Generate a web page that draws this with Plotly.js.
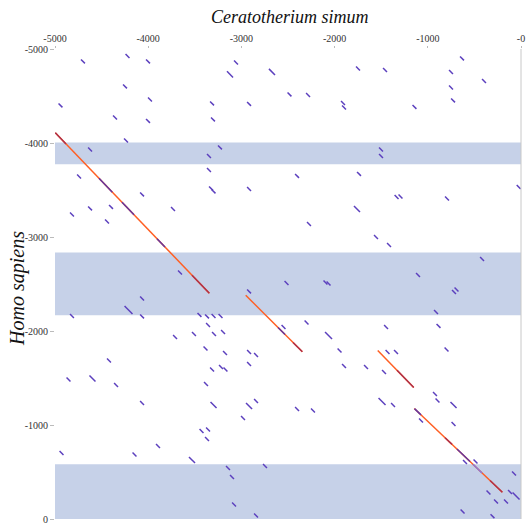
<!DOCTYPE html>
<html>
<head>
<meta charset="utf-8">
<script src="https://cdn.plot.ly/plotly-3.0.1.min.js"></script>
<style>html,body{margin:0;padding:0;background:#fff;}#chart{width:527px;height:529px;}</style>
</head>
<body>
<div id="chart"></div>
<script>
// Axis ticks
const xTickVals = [-5000, -4000, -3000, -2000, -1000, 0];
const xTickText = ['-5000', '-4000', '-3000', '-2000', '-1000', '-0'];
const yTickVals = [-5000, -4000, -3000, -2000, -1000, 0];
const yTickText = ['-5000', '-4000', '-3000', '-2000', '-1000', '0'];
const xTitle = 'Ceratotherium simum';
const yTitle = 'Homo sapiens';

// Highlighted regions on Homo sapiens (start, end)
const bandStart = [-4006, -2836, -583];
const bandEnd = [-3775, -2168, 0];

// Short (low identity) alignments: centre positions and length
const dashX = [-4700,-4222,-4002,-3058,-3122,-2672,-4249,-3981,-2484,-2285,-1749,-1459,-633,-751,-397,-751,-729,
  -4941,-3315,-2918,-4356,-4002,-3305,-4238,-4624,-3230,-3348,-3348,-4742,-3326,-3299,-2918,-4066,-4818,-4624,-4399,
  -3734,-4442,-3659,-2918,-4066,-4211,-1910,-1899,-1143,-1502,-1502,-2403,-1738,-25,-1335,-1293,-794,-1760,-2275,
  -1556,-1416,-418,-1105,-2516,-2098,-2065,-719,-692,-4818,-4066,-3450,-3369,-3299,-3224,-3358,-3712,-3509,-3294,
  -3197,-3385,-3176,-2918,-2843,-4421,-2918,-3315,-3219,-3171,-4855,-4598,-4345,-3380,-4066,-3299,-2918,-2843,-2983,
  -3428,-3358,-3369,-3895,-4930,-4147,-3530,-2747,-3144,-3101,-3079,-2843,-912,-2548,-2301,-2065,-1448,-885,-1947,
  -1432,-1341,-799,-1899,-1663,-1470,-923,-896,-724,-1491,-1373,-2403,-2232,-1073,-724,-601,-488,-75,-349,-118,-53,
  -161,-268,-627,-306,-25];
const dashY = [-4868,-4926,-4868,-4857,-4730,-4756,-4602,-4463,-4517,-4511,-4793,-4777,-4900,-4756,-4660,-4591,-4453,
  -4400,-4421,-4416,-4272,-4235,-4251,-4027,-3931,-3953,-3862,-3713,-3644,-3517,-3485,-3511,-3453,-3240,-3304,-3320,
  -3298,-3165,-2623,-2421,-2346,-2224,-4426,-4378,-4384,-3931,-3862,-3650,-3671,-3532,-3426,-3431,-3410,-3298,-3139,
  -3000,-2915,-2766,-2596,-2511,-2516,-2506,-2415,-2442,-2160,-2155,-2171,-2155,-2160,-2160,-2064,-1936,-1968,-1968,
  -1990,-1814,-1766,-1777,-1745,-1686,-1649,-1591,-1617,-1591,-1484,-1495,-1426,-1436,-1234,-1213,-1202,-1256,-1075,
  -936,-952,-851,-777,-702,-686,-628,-564,-543,-447,-154,-37,-2202,-2043,-2091,-1952,-2043,-2054,-1793,
  -1777,-1777,-1803,-1628,-1617,-1564,-1330,-1261,-1213,-1250,-1213,-1170,-1154,-1048,-1011,-606,-612,-484,-282,-287,-245,
  -186,-186,-80,-30,-43];
const dashLen = [42,42,42,42,65,65,42,42,42,42,42,42,42,42,42,42,42,
  42,42,42,42,42,42,42,42,42,42,42,42,42,42,42,42,42,42,42,
  42,42,42,42,42,85,42,42,42,42,42,42,42,42,42,42,42,65,42,
  42,42,42,42,42,42,42,42,42,42,42,42,42,42,42,42,42,42,42,
  42,42,42,42,42,42,42,42,42,42,42,65,42,42,42,65,65,42,42,
  42,42,42,42,42,42,65,42,42,42,42,42,42,42,42,75,42,42,42,
  42,42,42,42,42,42,42,42,65,75,42,42,42,42,42,42,42,42,42,42,
  75,42,42,42,42];

// Long (high identity) alignments
const alnX0 = [-4997, -2954, -1537, -1145];
const alnY0 = [-4109, -2381, -1793, -1176];
const alnX1 = [-3344, -2346, -1151, -200];
const alnY1 = [-2402, -1779, -1399, -285];

// Lower-identity stretches inside the long alignments
const midX0 = [-4997, -3530, -2446, -1330, -815, -332];
const midY0 = [-4109, -2594, -1878, -1582, -865, -409];
const midX1 = [-4882, -3344, -2346, -1151, -740, -200];
const midY1 = [-3990, -2402, -1779, -1399, -794, -285];

const lowX0 = [-4528, -4281, -3906, -2607, -1143, -687];
const lowY0 = [-3625, -3370, -2982, -2037, -1174, -744];
const lowX1 = [-4385, -4152, -3820, -2532, -1073, -547];
const lowY1 = [-3477, -3236, -2893, -1963, -1108, -612];

const faintX0 = [-515];
const faintY0 = [-582];
const faintX1 = [-418];
const faintY1 = [-490];

function segs(x0, y0, x1, y1) {
  const xs = [], ys = [];
  for (let i = 0; i < x0.length; i++) {
    xs.push(x0[i], x1[i], null);
    ys.push(y0[i], y1[i], null);
  }
  return {x: xs, y: ys};
}
function dashSegs() {
  const xs = [], ys = [];
  for (let i = 0; i < dashX.length; i++) {
    const h = dashLen[i] / 2;
    xs.push(dashX[i] - h, dashX[i] + h, null);
    ys.push(dashY[i] - h, dashY[i] + h, null);
  }
  return {x: xs, y: ys};
}

const d = dashSegs();
const main = segs(alnX0, alnY0, alnX1, alnY1);
const mid = segs(midX0, midY0, midX1, midY1);
const low = segs(lowX0, lowY0, lowX1, lowY1);
const faint = segs(faintX0, faintY0, faintX1, faintY1);

const traces = [
  {x: d.x, y: d.y, mode: 'lines', line: {color: 'rgb(92,64,190)', width: 1.5}, hoverinfo: 'skip', showlegend: false},
  {x: main.x, y: main.y, mode: 'lines', line: {color: 'rgb(255,95,35)', width: 1.5}, hoverinfo: 'skip', showlegend: false},
  {x: mid.x, y: mid.y, mode: 'lines', line: {color: 'rgb(175,50,75)', width: 1.5}, hoverinfo: 'skip', showlegend: false},
  {x: low.x, y: low.y, mode: 'lines', line: {color: 'rgb(100,55,160)', width: 1.5}, hoverinfo: 'skip', showlegend: false},
  {x: faint.x, y: faint.y, mode: 'lines', line: {color: 'rgb(140,120,215)', width: 1.5}, hoverinfo: 'skip', showlegend: false}
];

const shapes = bandStart.map((s, i) => ({
  type: 'rect', xref: 'paper', x0: 0, x1: 1, yref: 'y', y0: s, y1: bandEnd[i],
  fillcolor: 'rgb(198,209,232)', line: {width: 0}, layer: 'below'
}));
shapes.push({type: 'line', xref: 'paper', x0: 1, x1: 1, yref: 'paper', y0: 0, y1: 1,
  line: {color: '#c8c8c8', width: 1}});

const serif = 'Liberation Serif';
const tickFont = {family: serif, size: 10, color: '#333'};
const layout = {
  width: 527, height: 529,
  margin: {l: 55, r: 6, t: 49, b: 10},
  paper_bgcolor: '#fff', plot_bgcolor: '#fff',
  xaxis: {
    range: [-5000, 0], side: 'top', tickvals: xTickVals, ticktext: xTickText,
    ticks: 'outside', ticklen: 2, tickcolor: '#bbb', showgrid: false, zeroline: false, showline: false,
    tickfont: tickFont
  },
  yaxis: {
    range: [0, -5000], tickvals: yTickVals, ticktext: yTickText,
    ticks: 'outside', ticklen: 4, tickcolor: '#bbb', showgrid: false, zeroline: false, showline: false,
    tickfont: tickFont
  },
  annotations: [
    {text: xTitle, xref: 'paper', yref: 'paper', x: 0.505, y: 1.068, xanchor: 'center', yanchor: 'middle',
     showarrow: false, font: {family: serif, size: 18, style: 'italic', color: '#111'}},
    {text: yTitle, xref: 'paper', yref: 'paper', x: -0.081, y: 0.49, xanchor: 'center', yanchor: 'middle',
     textangle: -90, showarrow: false, font: {family: serif, size: 20, style: 'italic', color: '#111'}}
  ],
  shapes: shapes
};

Plotly.newPlot('chart', traces, layout, {displayModeBar: false, staticPlot: true});
</script>
</body>
</html>
